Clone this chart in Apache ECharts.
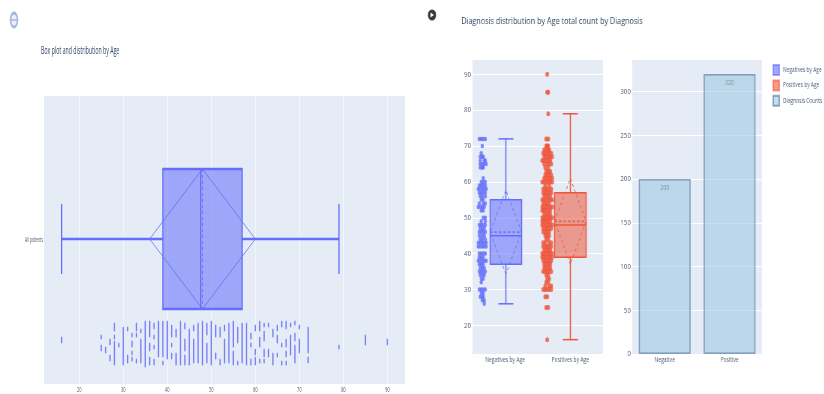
<!DOCTYPE html>
<html>
<head>
<meta charset="utf-8">
<title>Diagnosis by Age</title>
<script src="https://cdn.jsdelivr.net/npm/echarts@6/dist/echarts.min.js"></script>
<style>
  html, body { margin: 0; padding: 0; background: #fff; overflow: hidden; }
  /* the original screenshot is squeezed sideways, so each chart is drawn wide and scaled back */
  #left { position: absolute; left: 0; top: 0; width: 840px; height: 394px; transform-origin: 0 0; transform: scaleX(0.5); filter: blur(0.6px); }
  #right { position: absolute; left: 420px; top: 0; width: 540px; height: 394px; transform-origin: 0 0; transform: scaleX(0.75); filter: blur(0.6px); }
</style>
</head>
<body>
<div id="left"></div>
<div id="right"></div>
<script>
var ageTicks = [20, 30, 40, 50, 60, 70, 80, 90];
var countTicks = [0, 50, 100, 150, 200, 250, 300];
var boxCategories = ['Negatives by Age', 'Positives by Age'];
var countCategories = ['Negative', 'Positive'];
var countValues = [200, 320];

// index, low whisker, q1, median, q3, high whisker, mean, sd
var allStats = [[0, 16, 39, 47.6, 57, 79, 48, 12]];
var negStats = [[0, 26, 37, 45, 55, 72, 46, 11.7]];
var posStats = [[1, 16, 39, 48, 57, 79, 49, 12]];

// strip under the left box: age and the rows its dots sit on
var allAges = [16, 25, 26, 27, 28, 29, 30, 31, 32, 33, 34, 35, 36, 37, 38, 39, 40, 41, 42, 43, 44, 45, 46, 47, 48, 49, 50, 51, 52, 53, 54, 55, 56, 57, 58, 59, 60, 61, 62, 63, 64, 65, 66, 67, 68, 69, 70, 72, 79, 85, 90];
var allRows = [
  [12, 13, 14],
  [8, 9, 10, 14, 15],
  [7, 8, 9],
  [3, 4, 5, 11, 12, 13],
  [1, 2, 3, 4, 5, 6, 7, 8, 9, 10, 11, 12, 14, 15, 18, 19, 20, 21],
  [10, 11],
  [1, 2, 3, 4, 5, 6, 7, 8, 9, 10, 11, 12, 13, 14, 15, 16, 17, 18, 19],
  [2, 3, 4, 5, 18, 19],
  [3, 4, 6, 7, 10, 11, 12, 15, 16],
  [2, 3, 15, 16, 18, 19, 20, 21],
  [2, 3, 4, 5, 6, 7, 8, 9, 10, 11, 12, 13, 17, 18],
  [0, 1, 2, 3, 4, 5, 6, 7, 8, 9, 10, 11, 12, 13, 14, 15, 16, 17, 18, 19, 20, 21, 22],
  [1, 2, 3, 4, 8, 9, 10, 11, 15, 16, 17, 18, 19, 20, 21, 22],
  [1, 2, 3, 9, 10, 14, 15, 19, 20, 21],
  [5, 6, 7, 8, 9, 10, 11, 12, 13, 14, 15, 16, 17, 18, 19, 20, 21, 22],
  [1, 2, 5, 6, 7, 8, 9, 10, 11, 12, 13, 14, 15, 16, 17, 18, 19, 20, 21, 22],
  [4, 5, 6, 7, 8, 9, 10, 11, 12, 13, 14, 15, 16, 17, 18, 19, 20, 21, 22],
  [4, 5, 6, 10, 11, 15, 16, 17, 18, 19, 20],
  [1, 2, 3, 4, 5, 6, 15, 16, 17, 18],
  [1, 2, 3, 4, 5, 6, 7, 8, 9, 10, 11, 12, 13, 14, 15, 16, 17, 18, 19, 20, 21, 22],
  [1, 2, 3, 4, 5, 8, 9, 10, 11, 12, 13, 19, 20, 21],
  [1, 2, 3, 4, 5, 6, 7, 8, 9, 10, 11, 12, 13, 14, 15, 16, 17, 18],
  [2, 3, 4, 5, 6, 7, 8, 9, 10, 11, 12, 13, 18, 19, 20],
  [2, 3, 4, 5, 6, 7, 8, 9, 10, 11, 12, 13, 14, 15, 16, 17, 18, 19, 20, 21],
  [1, 2, 3, 4, 5, 6, 7, 8, 9, 10, 11, 12, 13, 14, 15, 16, 17, 18, 19, 20, 21, 22],
  [2, 3, 4, 5, 6, 7, 8, 9, 10, 11, 16, 17, 18, 19, 20, 21],
  [1, 2, 3, 4, 5, 6, 7, 8, 9, 10, 11, 12, 13, 14, 15, 16, 17, 18, 19, 20, 21, 22],
  [4, 5, 6, 15, 16, 17, 18, 19, 20],
  [1, 2, 3, 15, 16, 17, 18, 19],
  [2, 3, 4, 5, 6, 7, 8, 9, 10, 11, 12, 13, 18, 19, 20],
  [2, 3, 4, 5, 6, 7, 8, 9, 10, 11, 12, 13, 14, 15, 16, 17, 18, 19, 20, 21],
  [1, 2, 3, 4, 5, 6, 7, 10, 11, 12, 13, 14, 15, 16, 17, 18, 19, 20, 21, 22],
  [1, 2, 12, 13, 14, 15, 16, 17, 18, 19],
  [2, 3, 4, 5, 6, 7, 8, 9, 10, 11, 12, 13, 14, 15, 16, 17, 18, 19, 20, 21],
  [1, 2, 3, 4, 5, 6, 7, 8, 9, 10, 11, 12, 13, 14, 15, 16, 17, 18, 19, 20, 21],
  [1, 2, 3, 10, 11, 14, 15, 16],
  [1, 2, 3, 4, 6, 7, 8, 18, 19, 20],
  [2, 3, 10, 11, 12, 13, 14, 18, 19, 20, 21, 22],
  [2, 3, 5, 6, 7, 8, 13, 14, 15, 16, 17, 20, 21],
  [5, 6, 7, 8, 20, 21],
  [1, 2, 3, 4, 5, 6, 15, 16, 17, 18],
  [5, 6, 12, 13, 14, 15, 18, 19, 20],
  [1, 2, 10, 11, 20, 21, 22],
  [1, 2, 5, 6, 7, 10, 11, 12, 13, 19, 20, 21, 22],
  [6, 7, 8, 9, 10, 11, 12, 13, 14, 15, 20, 21],
  [2, 3, 4, 5, 6, 7, 8, 9, 10, 13, 14, 15, 16, 21, 22],
  [7, 8, 9, 10, 11, 12, 13, 19, 20],
  [2, 3, 4, 7, 8, 9, 10, 11, 12, 13, 14, 15, 16, 17, 18, 19],
  [9, 10],
  [11, 12, 13, 14, 15],
  [11, 12, 13]
];

// strips beside the boxes: age and how far each dot sits from the strip centre
var negAges = [26, 27, 28, 29, 30, 32, 33, 34, 35, 36, 37, 38, 39, 40, 42, 43, 44, 45, 46, 47, 48, 49, 50, 52, 53, 54, 55, 56, 57, 58, 59, 60, 61, 64, 65, 66, 67, 68, 70, 72];
var negOffsets = [
  [2], [0, 2], [-2, 0, 1], [-1, 1], [-3, -1, 1, 3], [-1], [-1, 1], [-2, 0, 2], [-3, -1, 1, 3], [-2, 0, 2],
  [-3, -1, 1], [-4, -2, 0, 2, 4], [-3, -1, 1], [-3, -1, 1, 3], [-4, -2, 0, 2, 4], [-4, -2, 0, 2, 4], [-2, 0, 3], [-3, 0, 2], [-3, -1, 1, 3], [-2, 0, 2],
  [-3, -1, 1, 3], [-1, 3], [1, 3], [-1, 1], [-4, -2, 0, 2], [-3, 1, 3], [-1, 1], [-2, 0, 3], [-3, -1, 1, 3], [-4, -2, 0, 2, 4],
  [-3, -1, 1, 3], [-1, 1, 3], [1], [-2, 0, 1], [-2, 0, 2, 4], [-2, 2, 3], [-2, 0, 1], [-1], [0], [-3, -1, 1, 3]
];
var posAges = [16, 25, 28, 30, 31, 32, 33, 34, 35, 36, 37, 38, 39, 40, 41, 42, 43, 44, 45, 46, 47, 48, 49, 50, 51, 52, 53, 54, 55, 56, 57, 58, 59, 60, 61, 62, 63, 64, 65, 66, 67, 68, 69, 70, 72, 79, 85, 90];
var posOffsets = [
  [0], [-1, 1], [-2, 0], [-4, -2, 0, 2, 4], [-2, 2, 4], [-1, 1], [0, 2], [-1, 1], [-4, -2, 0, 2, 4], [-3, -1, 1, 3],
  [-3, -1, 1, 3], [-4, -2, 0, 2, 4], [-5, -3, -1, 1, 3, 5], [-5, -3, -1, 1, 3, 5], [-3, -1, 1, 3], [-4, -2, 0, 2, 4], [-4, -2, 2, 4], [-1, 1], [-2, 0, 2], [-4, -2, 0, 2],
  [-4, -2, 0, 2, 4], [-5, -3, -1, 1, 3, 5], [-5, -3, -1, 1, 3], [-5, -3, -1, 1, 3, 5], [-3, -1, 1, 3], [-5, -3, -1, 1, 3], [-5, -3, -1, 1, 3, 5], [-4, -2, 0, 2], [-5, -3, -1, 1, 3, 5], [-3, -1, 1, 3],
  [-4, -2, 0, 2, 4], [-4, -2, 0, 2, 4], [-2, 2], [-5, -3, -1, 1, 3, 5], [-3, -1, 1, 3, 5], [-2, 0, 2, 4], [-1, 1, 3], [-2, 1], [-3, 0, 2, 4], [-5, -3, -1, 1, 3],
  [-3, -1, 1, 3, 5], [-4, -2, 0, 2, 4], [-3, -1, 1, 2], [-1, 0, 1], [-1, 1], [1], [0, 1], [0]
];

var blue = '#636EFA';
var red = '#EF553B';
var tickColor = '#4a5a78';
var titleColor = '#2a3f5f';
var fontName = '"Open Sans", "Noto Sans", sans-serif';

function stripPoints(ages, rows, lane, step) {
  var out = [];
  ages.forEach(function (age, i) {
    rows[i].forEach(function (r) { out.push([lane + r * step, age]); });
  });
  return out;
}

// box, whiskers, mean line and sd diamond, both ways round
function boxRenderer(horizontal, halfBox, halfCap, dash, width, shift) {
  return function (params, api) {
    var idx = api.value(0);
    var color = api.visual('color');
    function pt(val, off) {
      var p = horizontal ? api.coord([val, idx]) : api.coord([idx, val]);
      return horizontal ? [p[0], p[1] + off + shift] : [p[0] + off + shift, p[1]];
    }
    function line(a, b, w, lineDash) {
      return {
        type: 'line',
        shape: { x1: a[0], y1: a[1], x2: b[0], y2: b[1] },
        style: { stroke: color, lineWidth: w, lineDash: lineDash || null, fill: null }
      };
    }
    var low = api.value(1), q1 = api.value(2), med = api.value(3), q3 = api.value(4), high = api.value(5), mean = api.value(6), sd = api.value(7);
    var c1 = pt(q1, -halfBox), c2 = pt(q3, -halfBox), c3 = pt(q3, halfBox), c4 = pt(q1, halfBox);
    return {
      type: 'group',
      children: [
        { type: 'polygon', shape: { points: [c1, c2, c3, c4] }, style: { fill: color, opacity: 0.55 } },
        { type: 'polygon', shape: { points: [c1, c2, c3, c4] }, style: { fill: null, stroke: color, lineWidth: width } },
        line(pt(med, -halfBox), pt(med, halfBox), width),
        line(pt(mean, -halfBox), pt(mean, halfBox), 1.5, [3, 3]),
        line(pt(q1, 0), pt(low, 0), width),
        line(pt(q3, 0), pt(high, 0), width),
        line(pt(low, -halfCap), pt(low, halfCap), width),
        line(pt(high, -halfCap), pt(high, halfCap), width),
        {
          type: 'polygon',
          shape: { points: [pt(mean - sd, 0), pt(mean, -halfBox), pt(mean + sd, 0), pt(mean, halfBox)] },
          style: { fill: null, stroke: color, lineWidth: 1, lineDash: dash }
        }
      ]
    };
  };
}

function tickAxisLabel(values, margin) {
  return { customValues: values, color: tickColor, fontFamily: fontName, fontSize: 8, margin: margin };
}

var leftChart = echarts.init(document.getElementById('left'));
leftChart.setOption({
  animation: false,
  title: {
    text: 'Box plot and distribution by Age',
    left: 82, top: 46, padding: 0,
    textStyle: { color: titleColor, fontFamily: fontName, fontSize: 10.5, fontWeight: 'normal' }
  },
  grid: { left: 88, top: 96, width: 722, height: 288, backgroundColor: '#E5ECF6', borderWidth: 0, show: true },
  xAxis: {
    type: 'value', min: 12, max: 94,
    axisLine: { show: false },
    axisTick: { show: false, customValues: ageTicks },
    axisLabel: tickAxisLabel(ageTicks, 2),
    splitLine: { lineStyle: { color: '#fff', width: 1 } }
  },
  yAxis: [
    {
      type: 'category', data: ['All patients'],
      axisLine: { show: false }, axisTick: { show: false }, splitLine: { show: false },
      axisLabel: { color: tickColor, fontFamily: fontName, fontSize: 7, margin: 2 }
    },
    { type: 'value', min: -9, max: 135, show: false, splitLine: { show: false } }
  ],
  series: [
    {
      type: 'custom', name: 'All patients', yAxisIndex: 0,
      renderItem: boxRenderer(true, 70, 35, null, 2.5, -1),
      itemStyle: { color: blue },
      encode: { x: [1, 2, 3, 4, 5], y: 0 },
      data: allStats
    },
    {
      type: 'scatter', yAxisIndex: 1, symbolSize: 3,
      itemStyle: { color: blue },
      data: allAges.reduce(function (out, age, i) {
        allRows[i].forEach(function (r) { out.push([age, r]); });
        return out;
      }, [])
    }
  ],
  graphic: [
    { type: 'circle', shape: { cx: 28, cy: 20, r: 7 }, style: { fill: '#eef1fa', stroke: '#a3b6e0', lineWidth: 3 } },
    { type: 'line', shape: { x1: 21, y1: 20, x2: 35, y2: 20 }, style: { stroke: '#a3b6e0', lineWidth: 1.5 } }
  ]
});

var rightChart = echarts.init(document.getElementById('right'));
var boxGrid = { left: 70, top: 60, width: 174, height: 294, backgroundColor: '#E5ECF6', borderWidth: 0, show: true };
var countGrid = { left: 283, top: 60, width: 173, height: 294, backgroundColor: '#E5ECF6', borderWidth: 0, show: true };
rightChart.setOption({
  animation: false,
  title: {
    text: 'Diagnosis distribution by Age total count by Diagnosis',
    left: 55, top: 16, padding: 0,
    textStyle: { color: titleColor, fontFamily: fontName, fontSize: 9.7, fontWeight: 'normal' }
  },
  legend: {
    data: boxCategories.concat(['Diagnosis Counts']),
    orient: 'vertical', left: 465, top: 59,
    icon: 'rect', itemWidth: 8, itemHeight: 10, itemGap: 3.4,
    textStyle: { color: tickColor, fontFamily: fontName, fontSize: 6.5 }
  },
  grid: [boxGrid, countGrid],
  xAxis: [
    {
      type: 'category', gridIndex: 0, data: boxCategories,
      axisLine: { show: false }, axisTick: { show: false }, splitLine: { show: false },
      axisLabel: { color: tickColor, fontFamily: fontName, fontSize: 6.7, margin: 3 }
    },
    { type: 'value', gridIndex: 0, min: -87, max: 87, show: false, splitLine: { show: false } },
    {
      type: 'category', gridIndex: 1, data: countCategories,
      axisLine: { show: false }, axisTick: { show: false }, splitLine: { show: false },
      axisLabel: { color: tickColor, fontFamily: fontName, fontSize: 6.7, margin: 3 }
    }
  ],
  yAxis: [
    {
      type: 'value', gridIndex: 0, min: 12, max: 94,
      axisLine: { show: false },
      axisTick: { show: false, customValues: ageTicks },
      axisLabel: tickAxisLabel(ageTicks, 2),
      splitLine: { lineStyle: { color: '#fff', width: 1 } }
    },
    {
      type: 'value', gridIndex: 1, min: 0, max: 336,
      axisLine: { show: false },
      axisTick: { show: false, customValues: countTicks },
      axisLabel: tickAxisLabel(countTicks, 2),
      splitLine: { lineStyle: { color: '#fff', width: 1 } }
    }
  ],
  series: [
    {
      type: 'custom', name: boxCategories[0], xAxisIndex: 0, yAxisIndex: 0,
      renderItem: boxRenderer(false, 21, 10, [3, 3], 1.5, 1),
      itemStyle: { color: blue, opacity: 0.6, borderColor: blue, borderWidth: 1 },
      encode: { x: 0, y: [1, 2, 3, 4, 5] },
      data: negStats
    },
    {
      type: 'custom', name: boxCategories[1], xAxisIndex: 0, yAxisIndex: 0,
      renderItem: boxRenderer(false, 21, 10, [3, 3], 1.5, 0),
      itemStyle: { color: red, opacity: 0.6, borderColor: red, borderWidth: 1 },
      encode: { x: 0, y: [1, 2, 3, 4, 5] },
      data: posStats
    },
    {
      type: 'scatter', xAxisIndex: 1, yAxisIndex: 0, symbolSize: 4.5,
      itemStyle: { color: blue },
      data: stripPoints(negAges, negOffsets, -74, 1.33)
    },
    {
      type: 'scatter', xAxisIndex: 1, yAxisIndex: 0, symbolSize: 5,
      itemStyle: { color: red },
      data: stripPoints(posAges, posOffsets, 12.6, 1.33)
    },
    {
      type: 'bar', name: 'Diagnosis Counts', xAxisIndex: 2, yAxisIndex: 1, barWidth: '80%',
      itemStyle: { color: 'rgba(158,202,225,0.6)', borderColor: 'rgba(8,48,107,0.4)', borderWidth: 1.5 },
      label: { show: true, position: 'insideTop', color: '#7f8fa3', fontFamily: fontName, fontSize: 7, distance: 5 },
      data: countValues
    }
  ],
  graphic: [
    { type: 'circle', shape: { cx: 16, cy: 15, r: 5.5 }, style: { fill: '#3a3a3a' } },
    { type: 'polygon', shape: { points: [[14, 12.5], [14, 17.5], [18.5, 15]] }, style: { fill: '#fff' } }
  ]
});
</script>
</body>
</html>
